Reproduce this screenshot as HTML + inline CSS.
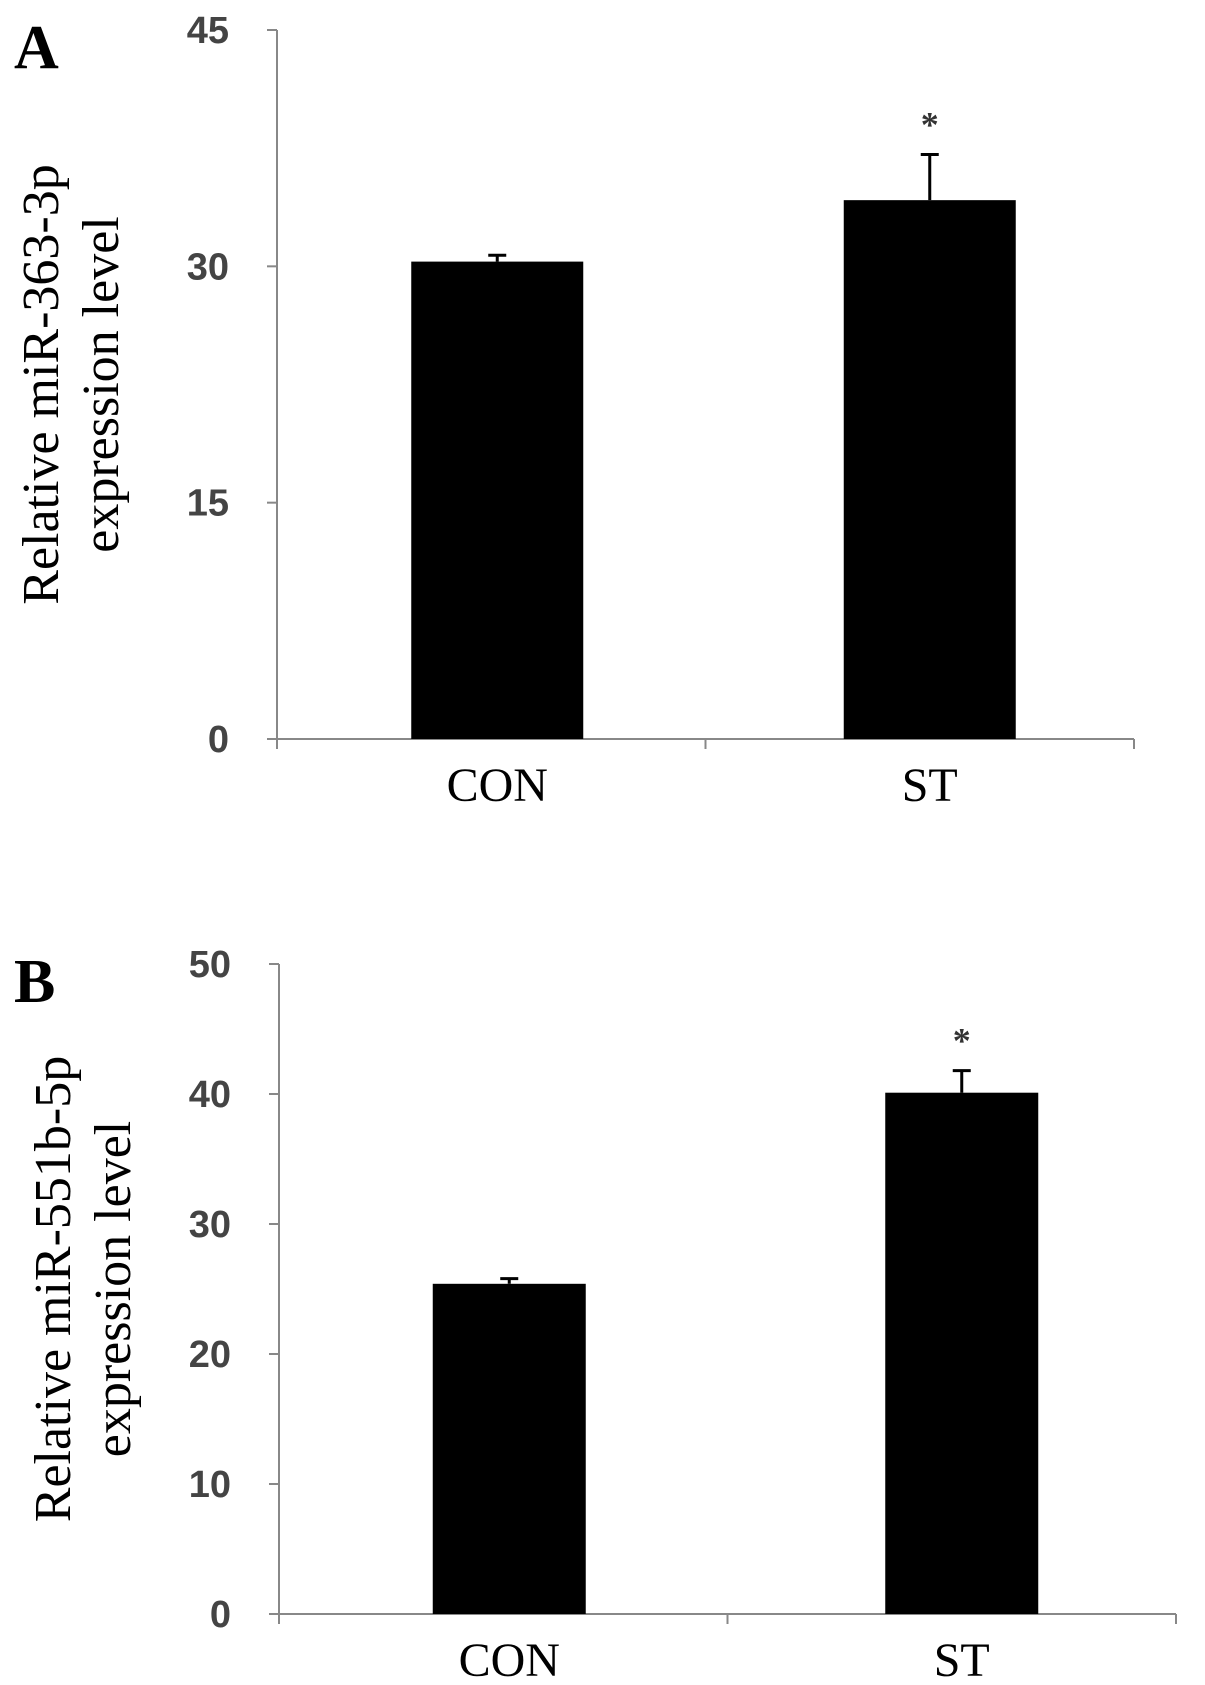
<!DOCTYPE html>
<html><head><meta charset="utf-8"><style>
body{margin:0;background:#fff}
svg{display:block}
text{font-family:"Liberation Serif",serif}
.tick{font-family:"Liberation Sans",sans-serif;font-weight:bold;font-size:38px;fill:#444}
</style></head><body>
<svg id="chart" width="1205" height="1685"></svg>
<script>
const categories = ["CON", "ST"];
const valuesA = [30.3, 34.2];
const errorsA = [0.4, 2.9];
const ticksA = [0, 15, 30, 45];
const valuesB = [25.4, 40.1];
const errorsB = [0.4, 1.7];
const ticksB = [0, 10, 20, 30, 40, 50];
const starsA = ["", "*"];
const starsB = ["", "*"];

const NS = "http://www.w3.org/2000/svg";
const svg = document.getElementById("chart");
function mk(tag, attrs, parent) {
  const e = document.createElementNS(NS, tag);
  for (const k in attrs) e.setAttribute(k, attrs[k]);
  (parent || svg).appendChild(e);
  return e;
}
function panel(cfg) {
  const g = mk("g", {});
  
  
  const y = v => cfg.y0 - (v / cfg.max) * (cfg.y0 - cfg.yTop);
  const slot = (cfg.xRight - cfg.x0) / categories.length;
  const xc = i => cfg.x0 + slot * (i + 0.5) + cfg.shift[i];
  const yAxis = mk("line", {x1: cfg.x0, y1: cfg.yTop, x2: cfg.x0, y2: cfg.y0, stroke: "#888", "stroke-width": 2}, g);
  
  
  const xAxis = mk("line", {x1: cfg.x0, y1: cfg.y0, x2: cfg.xRight, y2: cfg.y0, stroke: "#888", "stroke-width": 2}, g);
  
  
  cfg.ticks.forEach(t => {
    mk("line", {x1: cfg.x0 - 10, y1: y(t), x2: cfg.x0, y2: y(t), stroke: "#888", "stroke-width": 2}, g);
    const tl = mk("text", {x: cfg.x0 - 48, y: y(t) + 13, "text-anchor": "end", class: "tick"}, g);
    tl.textContent = t;
    
    
  });
  for (let i = 0; i <= categories.length; i++) {
    const tx = cfg.x0 + slot * i;
    mk("line", {x1: tx, y1: cfg.y0, x2: tx, y2: cfg.y0 + 10, stroke: "#888", "stroke-width": 2}, g);
  }
  categories.forEach((c, i) => {
    const bw = cfg.bw;
    const bar = mk("rect", {x: xc(i) - bw / 2, y: y(cfg.values[i]), width: bw, height: cfg.y0 - y(cfg.values[i]), fill: "#000"}, g);
    
    
    const top = y(cfg.values[i] + cfg.errors[i]);
    const eb = mk("path", {d: `M${xc(i)},${y(cfg.values[i])}V${top}M${xc(i) - 9},${top}H${xc(i) + 9}`, stroke: "#000", "stroke-width": 3, fill: "none"}, g);
    
    
    if (cfg.stars[i]) {
      const s = mk("text", {x: xc(i), y: top - 18, "text-anchor": "middle", "font-size": 36, fill: "#333", "font-weight": "bold"}, g);
      s.textContent = cfg.stars[i];
      
      
    }
    const lab = mk("text", {x: xc(i), y: cfg.y0 + 62, "text-anchor": "middle", "font-size": 48}, g);
    lab.textContent = c;
    
    
  });
  const ym = (cfg.yTop + cfg.y0) / 2;
  const t = mk("text", {transform: `translate(${cfg.titleX},${ym}) rotate(-90)`, "text-anchor": "middle", "font-size": 52}, g);
  
  
  const t1 = mk("tspan", {x: 0, dy: 0}, t); t1.textContent = cfg.title;
  const t2 = mk("tspan", {x: 0, dy: 60}, t); t2.textContent = "expression level";
  const pl = mk("text", {x: 14, y: cfg.yTop + 38, "font-size": 62, "font-weight": "bold"}, g);
  pl.textContent = cfg.letter;
  
  
}
panel({name: "panel-a", x0: 277, xRight: 1134, yTop: 30, y0: 739, max: 45, values: valuesA, errors: errorsA, ticks: ticksA, stars: starsA, bw: 172, shift: [6, 10], title: "Relative miR-363-3p", titleX: 58, letter: "A"});
panel({name: "panel-b", x0: 279, xRight: 1176, yTop: 964, y0: 1614, max: 50, values: valuesB, errors: errorsB, ticks: ticksB, stars: starsB, bw: 153, shift: [6, 10], title: "Relative miR-551b-5p", titleX: 70, letter: "B"});
</script>
</body></html>
